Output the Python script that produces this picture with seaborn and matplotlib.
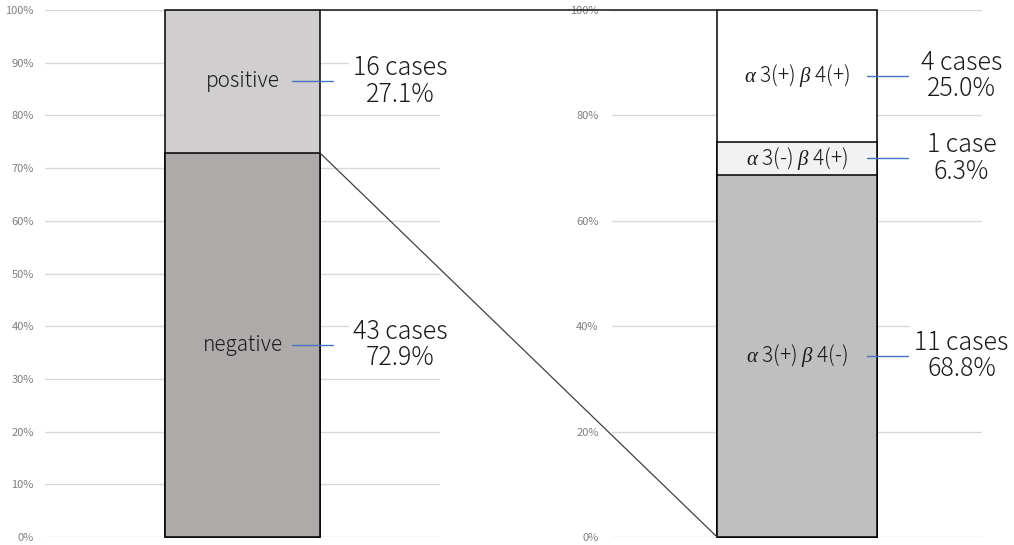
import numpy as np
import pandas as pd
import matplotlib
matplotlib.use("Agg")
import matplotlib.pyplot as plt
from matplotlib.patches import ConnectionPatch
import seaborn as sns

# ================================================
# Data
# ================================================
left_names = ["negative", "positive"]          # bottom -> top
left_counts = [43, 16]
left_colors = ["#aeaaaa", "#d0cece"]

right_names = [r"$\alpha$ 3(+) $\beta$ 4(-)", r"$\alpha$ 3(-) $\beta$ 4(+)",
               r"$\alpha$ 3(+) $\beta$ 4(+)"]
right_counts = [11, 1, 4]
right_colors = ["#bfbfbf", "#f2f2f2", "#ffffff"]

left_ticks = list(range(0, 101, 10))
right_ticks = list(range(0, 101, 20))

# ================================================
# Style
# ================================================
sns.set_theme(style="white")
plt.rcParams['font.family'] = ['Noto Sans CJK JP', 'DejaVu Sans']
plt.rcParams['mathtext.fontset'] = 'custom'
plt.rcParams['mathtext.it'] = 'Liberation Serif:italic'
plt.rcParams['mathtext.rm'] = 'Noto Sans CJK JP'

fig = plt.figure(figsize=(10.14, 5.45), dpi=100)
axL = fig.add_axes([45 / 1014, 8 / 545, 395 / 1014, 527 / 545])
axR = fig.add_axes([612 / 1014, 8 / 545, 370 / 1014, 527 / 545])

wL = 0.392
wR = 0.432
weight = "light"


def fmt_pct(p):
    # round half up, like the spreadsheet does
    return f"{np.floor(p * 10 + 0.5) / 10:.1f}%"


def stacked_bar(ax, names, counts, colors, width, ticks, pad, lead, label_x):
    pct = np.array(counts) / sum(counts) * 100
    cum = np.cumsum(pct)
    # draw cumulative bars, tallest first, so each segment covers the next
    for i in range(len(cum) - 1, -1, -1):
        df = pd.DataFrame({"grp": ["all"], "val": [cum[i]]})
        sns.barplot(data=df, x="grp", y="val", color=colors[i], saturation=1,
                    width=width, edgecolor="black", linewidth=1.1, ax=ax)
    for p in ax.patches:
        p.set_clip_on(False)

    ax.set_xlim(-0.5, 0.5)
    ax.set_ylim(0, 100)
    ax.set_yticks(ticks)
    ax.set_yticklabels([f"{t}%" for t in ticks])
    ax.tick_params(axis="y", length=0, pad=pad, labelsize=8, labelcolor="#7f7f7f")
    ax.set_xticks([])
    ax.set_xlabel("")
    ax.set_ylabel("")
    ax.grid(axis="y", color="#d9d9d9", linewidth=1)
    ax.set_axisbelow(True)
    for s in ax.spines.values():
        s.set_visible(False)

    bottoms = cum - pct
    for name, c, p, b in zip(names, counts, pct, bottoms):
        mid = b + p / 2
        ax.text(0, mid, name, ha="center", va="center", fontsize=15, color="#1a1a1a",
                fontweight=weight, zorder=5)
        ax.plot([lead[0], lead[1]], [mid, mid], color="#4472c4", lw=1, zorder=6, clip_on=False)
        unit = "case" if c == 1 else "cases"
        ax.text(label_x, mid, f"{c} {unit}\n{fmt_pct(p)}", ha="center", va="center",
                fontsize=18, color="#1a1a1a", linespacing=1.0, fontweight=weight, zorder=4,
                bbox=dict(facecolor="white", edgecolor="none", pad=3))
    return pct


pctL = stacked_bar(axL, left_names, left_counts, left_colors, wL, left_ticks, 8,
                   (0.125, 0.229), 0.399)
pctR = stacked_bar(axR, right_names, right_counts, right_colors, wR, right_ticks, 9.5,
                   (0.190, 0.300), 0.445)

# connector lines from the positive segment to the breakdown bar
top_line = ConnectionPatch(xyA=(wL / 2, 100), coordsA=axL.transData,
                           xyB=(-wR / 2, 100), coordsB=axR.transData,
                           color="#262626", lw=1.2, zorder=10)
diag_line = ConnectionPatch(xyA=(wL / 2, pctL[0]), coordsA=axL.transData,
                            xyB=(-wR / 2, 0), coordsB=axR.transData,
                            color="#404040", lw=0.9, zorder=10)
fig.add_artist(top_line)
fig.add_artist(diag_line)

fig.savefig("out.png", dpi=100)
